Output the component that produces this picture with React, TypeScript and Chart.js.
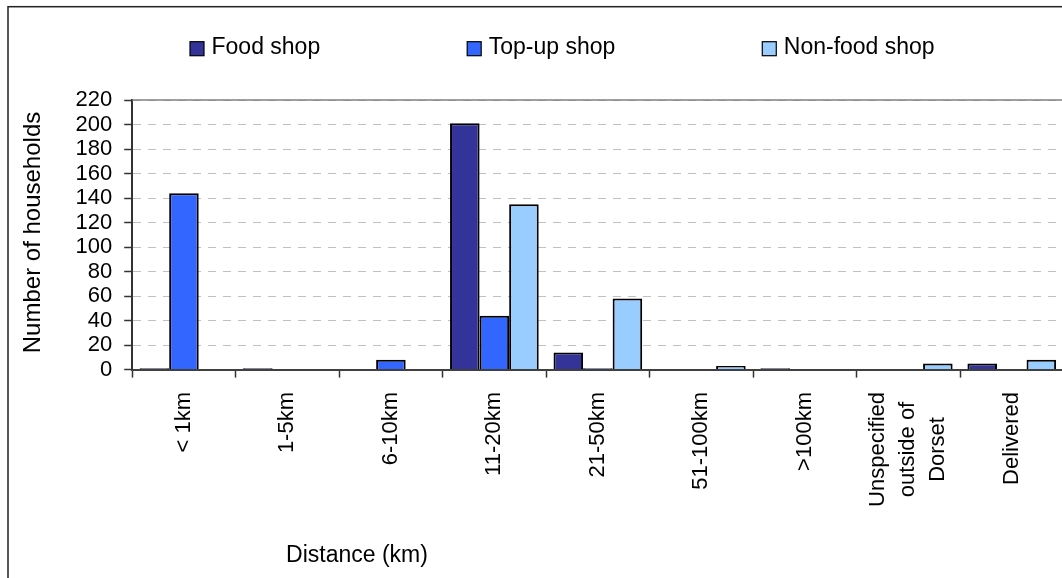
import React, { useEffect, useRef } from 'react';
import { Chart, registerables } from 'chart.js';

Chart.register(...registerables);

// ---- data ----
const categories: (string | string[])[] = [
  '< 1km',
  '1-5km',
  '6-10km',
  '11-20km',
  '21-50km',
  '51-100km',
  '>100km',
  ['Unspecified', 'outside of', 'Dorset'],
  'Delivered',
];
const foodShop = [1, 1, 0, 201, 14, 0, 1, 0, 5];
const topUpShop = [144, 0, 8, 44, 1, 0, 0, 0, 0];
const nonFoodShop = [0, 0, 0, 135, 58, 3, 0, 5, 8];
const seriesNames = ['Food shop', 'Top-up shop', 'Non-food shop'];
const seriesColors = ['#333399', '#3366FF', '#99CCFF'];
const yMax = 220;
const yStep = 20;
const yAxisTitle = 'Number of households';
const xAxisTitle = 'Distance (km)';

const FONT = '"Liberation Sans", Arial, sans-serif';
const CANVAS_W = 1100;
const CANVAS_H = 600;

const decorPlugin = {
  id: 'decor',
  beforeDraw(chart: any) {
    const ctx = chart.ctx;
    ctx.save();
    ctx.fillStyle = '#ffffff';
    ctx.fillRect(0, 0, chart.width, chart.height);
    ctx.strokeStyle = '#222222';
    ctx.lineWidth = 1.5;
    ctx.strokeRect(8, 6.7, chart.width + 100, chart.height + 100);
    ctx.restore();
  },
  beforeDatasetsDraw(chart: any) {
    const { ctx, chartArea } = chart;
    ctx.save();
    ctx.strokeStyle = '#808080';
    ctx.lineWidth = 1.5;
    ctx.beginPath();
    ctx.moveTo(chartArea.left, chartArea.top);
    ctx.lineTo(chartArea.right, chartArea.top);
    ctx.stroke();
    ctx.restore();
  },
  afterDraw(chart: any) {
    const ctx = chart.ctx;
    ctx.save();
    // legend
    ctx.font = `23px ${FONT}`;
    ctx.textBaseline = 'alphabetic';
    ctx.textAlign = 'left';
    let x = 190;
    const boxTop = 41.7;
    const box = 14;
    chart.data.datasets.forEach((ds: any) => {
      ctx.fillStyle = ds.backgroundColor;
      ctx.fillRect(x, boxTop, box, box);
      ctx.strokeStyle = '#000000';
      ctx.lineWidth = 1.2;
      ctx.strokeRect(x, boxTop, box, box);
      ctx.fillStyle = '#000000';
      const tx = x + box + 7.5;
      ctx.fillText(ds.label, tx, 54);
      x = tx + ctx.measureText(ds.label).width + 147;
    });

    // x category labels (rotated, multi-line lines centred on each other)
    const xScale = chart.scales.x;
    const labelTop = xScale.top + 22.4;
    ctx.font = `22px ${FONT}`;
    ctx.fillStyle = '#000000';
    ctx.textAlign = 'center';
    ctx.textBaseline = 'middle';
    const lineGap = 30;
    (chart.data.labels as any[]).forEach((lab: any, i: number) => {
      const lines: string[] = Array.isArray(lab) ? lab : [String(lab)];
      const maxW = Math.max(...lines.map((l) => ctx.measureText(l).width));
      const cx = xScale.getPixelForTick(i);
      const cy = labelTop + maxW / 2;
      lines.forEach((line, j) => {
        const off = (j - (lines.length - 1) / 2) * lineGap;
        ctx.save();
        ctx.translate(cx + off, cy);
        ctx.rotate(-Math.PI / 2);
        ctx.fillText(line, 0, 0);
        ctx.restore();
      });
    });

    // x axis title
    ctx.font = `23px ${FONT}`;
    ctx.textAlign = 'center';
    ctx.textBaseline = 'alphabetic';
    ctx.fillStyle = '#000000';
    ctx.fillText(xAxisTitle, 357, 562);
    // y axis title
    ctx.translate(33, 232.5);
    ctx.rotate(-Math.PI / 2);
    ctx.font = `24px ${FONT}`;
    ctx.textAlign = 'center';
    ctx.textBaseline = 'middle';
    ctx.fillText(yAxisTitle, 0, 0);
    ctx.restore();
  },
};

export default function App() {
  const canvasRef = useRef<HTMLCanvasElement | null>(null);

  useEffect(() => {
    const canvas = canvasRef.current;
    if (!canvas) return;
    const seriesData = [foodShop, topUpShop, nonFoodShop];
    const chart = new Chart(canvas, {
      type: 'bar',
      data: {
        labels: categories as any,
        datasets: seriesNames.map((name, i) => ({
          label: name,
          data: seriesData[i],
          backgroundColor: seriesColors[i],
          borderColor: '#000000',
          borderWidth: 2,
          categoryPercentage: 0.857,
          barPercentage: 1,
        })),
      },
      options: {
        animation: false,
        responsive: false,
        devicePixelRatio: 1,
        layout: { padding: { left: 0, right: CANVAS_W - 1063.5, top: 100, bottom: 0 } },
        plugins: {
          legend: { display: false },
          tooltip: { enabled: false },
          title: { display: false },
        },
        scales: {
          x: {
            offset: true,
            afterFit: (scale: any) => {
              scale.height = CANVAS_H - 369.6;
            },
            grid: {
              drawOnChartArea: false,
              drawTicks: true,
              offset: true,
              tickLength: 8,
              color: '#333333',
              tickWidth: 1.5,
            },
            border: { display: true, color: '#404040', width: 2 },
            ticks: {
              display: false,
              autoSkip: false,
            },
          },
          y: {
            min: 0,
            max: yMax,
            afterFit: (scale: any) => {
              scale.width = 132.2;
            },
            grid: {
              color: '#c0c0c0',
              lineWidth: 1,
              drawTicks: true,
              tickLength: 8,
              tickColor: '#333333',
              tickWidth: 1.5,
              tickBorderDash: [],
            },
            border: { display: true, color: '#333333', width: 2, dash: [8, 7] },
            ticks: {
              stepSize: yStep,
              autoSkip: false,
              padding: 12,
              color: '#000000',
              font: { family: FONT, size: 22 },
            },
          },
        },
      },
      plugins: [decorPlugin],
    } as any);
    return () => chart.destroy();
  }, []);

  return (
    <div
      style={{
        position: 'fixed',
        left: 0,
        top: 0,
        width: 1062,
        height: 578,
        overflow: 'hidden',
        background: '#ffffff',
      }}
    >
      <canvas
        ref={canvasRef}
        width={CANVAS_W}
        height={CANVAS_H}
        style={{ width: CANVAS_W, height: CANVAS_H, display: 'block' }}
      />
    </div>
  );
}
